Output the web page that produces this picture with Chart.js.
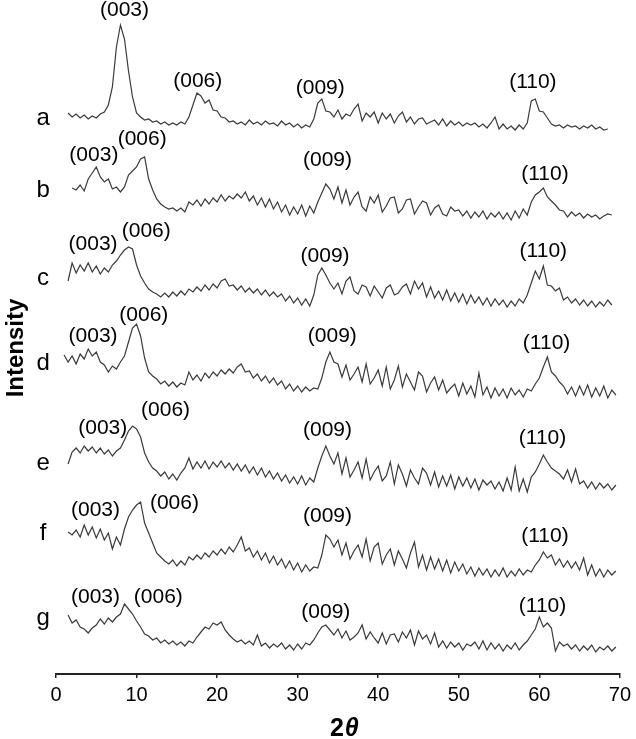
<!DOCTYPE html>
<html>
<head>
<meta charset="utf-8">
<script src="https://cdn.jsdelivr.net/npm/chart.js@4.4.0/dist/chart.umd.min.js"></script>
<style>
html,body{margin:0;padding:0;background:#fff;}
canvas{display:block;}
</style>
</head>
<body>
<canvas id="c" width="636" height="739"></canvas>
<script>
// 2θ grid (degrees)
const twoTheta = [
1.0,1.5,2.0,2.5,3.0,3.5,4.0,4.5,5.0,5.5,
6.0,6.5,7.0,7.5,8.0,8.5,9.0,9.5,10.0,10.5,
11.0,11.5,12.0,12.5,13.0,13.5,14.0,14.5,15.0,15.5,
16.0,16.5,17.0,17.5,18.0,18.5,19.0,19.5,20.0,20.5,
21.0,21.5,22.0,22.5,23.0,23.5,24.0,24.5,25.0,25.5,
26.0,26.5,27.0,27.5,28.0,28.5,29.0,29.5,30.0,30.5,
31.0,31.5,32.0,32.5,33.0,33.5,34.0,34.5,35.0,35.5,
36.0,36.5,37.0,37.5,38.0,38.5,39.0,39.5,40.0,40.5,
41.0,41.5,42.0,42.5,43.0,43.5,44.0,44.5,45.0,45.5,
46.0,46.5,47.0,47.5,48.0,48.5,49.0,49.5,50.0,50.5,
51.0,51.5,52.0,52.5,53.0,53.5,54.0,54.5,55.0,55.5,
56.0,56.5,57.0,57.5,58.0,58.5,59.0,59.5,60.0,60.5,
61.0,61.5,62.0,62.5,63.0,63.5,64.0,64.5,65.0,65.5,
66.0,66.5,67.0,67.5,68.0,68.5,69.0,69.5];

// intensities (relative, each pattern above its own baseline)
const seriesA = [
null,12,8,11,7,10,6,9,7,11,
13,20,38,78,100,86,54,28,12,8,
5,6,3,4,1,3,0,2,0,3,
1,8,20,32,29,22,25,15,14,8,
7,3,4,1,3,0,5,1,3,0,
4,1,2,-1,4,0,2,-2,1,-3,
0,-2,6,22,26,14,13,8,15,6,
11,9,16,21,4,12,8,13,2,12,
6,11,2,9,13,3,8,1,6,7,
1,3,5,0,6,-1,4,0,3,-1,
2,0,2,-2,1,-3,2,8,-4,1,
-4,-1,-5,0,-4,2,24,26,14,13,
7,1,-1,0,-3,0,-2,-1,-4,-1,
-3,0,-4,-2,-5,-4,null,null];

const seriesB = [
null,null,29,27,32,26,38,44,50,40,
35,38,28,30,25,30,42,46,50,58,
60,38,27,18,13,10,8,9,6,9,
5,15,12,17,11,18,13,19,15,22,
16,21,18,23,19,25,16,21,12,19,
10,18,8,15,5,12,2,10,3,12,
1,11,4,15,24,33,28,18,30,14,
27,12,20,25,10,6,20,14,22,5,
11,19,20,4,8,17,18,3,10,16,
14,2,9,12,3,1,10,6,7,1,
6,-1,5,0,6,-2,4,0,5,-2,
4,-3,6,-1,8,2,15,22,25,29,
20,16,12,7,6,0,5,1,4,-1,
3,0,2,-2,1,3,2,null];

const seriesC = [
null,22,40,30,38,32,40,31,37,29,
35,31,38,42,48,53,56,54,38,27,
20,14,11,9,6,10,6,11,7,12,
8,14,11,16,12,18,13,19,15,22,
24,17,18,13,17,11,15,10,14,8,
13,7,11,6,9,2,7,0,5,-2,
4,-3,8,28,35,28,20,14,20,9,
22,26,12,9,18,16,7,17,11,5,
15,18,8,10,16,19,9,22,14,20,
6,16,5,12,3,13,2,10,1,9,
-1,8,0,6,-2,5,-3,4,-2,3,
-4,2,-3,4,0,8,20,32,24,37,
18,17,12,15,3,6,0,4,-2,3,
-3,2,-4,1,-3,3,-2,null];

const seriesD = [
37,30,36,28,38,33,43,36,40,30,
27,20,26,23,30,36,50,64,68,56,
34,20,16,13,8,11,6,10,5,9,
7,20,12,17,11,19,14,20,16,22,
18,23,19,25,28,20,21,14,18,11,
16,9,14,7,11,3,8,1,6,0,
5,1,4,3,14,30,40,30,28,15,
27,12,18,25,10,28,8,14,22,6,
25,3,12,26,5,18,10,2,20,16,
0,9,15,2,12,-1,4,8,-4,9,
-2,6,-5,19,-3,5,-6,4,-4,3,
-6,4,-3,2,-5,3,1,8,14,25,
35,20,16,10,6,-2,5,-4,6,-3,
7,-5,4,-4,6,-6,2,-3];

const seriesE = [
null,22,34,38,33,40,35,39,33,38,
32,36,30,35,38,46,55,60,57,49,
33,24,18,15,10,14,7,12,6,13,
18,28,17,24,18,25,17,24,19,25,
18,23,16,22,15,21,13,19,11,18,
9,15,7,13,5,11,3,9,2,10,
1,8,4,18,30,40,30,22,33,12,
28,9,16,24,8,27,6,14,20,5,
10,24,2,21,12,0,16,8,2,18,
13,1,14,-1,10,0,11,-3,9,0,
8,-2,7,-4,6,1,5,-3,4,-5,
8,-4,19,-5,7,-6,9,14,22,31,
24,18,15,12,7,16,4,17,2,5,
-2,4,-3,3,-2,2,-4,1];

const seriesF = [
null,41,38,43,36,48,38,46,35,44,
33,40,24,36,28,44,56,63,68,71,
50,40,30,20,16,12,9,13,7,12,
8,16,13,18,14,20,16,22,18,24,
19,26,21,28,36,22,25,16,22,13,
20,10,17,8,14,5,12,3,10,1,
8,2,6,5,18,38,34,26,33,18,
30,14,22,28,16,34,12,26,30,9,
18,24,8,22,14,5,20,31,6,18,
3,16,4,14,2,13,0,11,2,9,
-1,6,-3,5,-2,4,-4,3,-3,5,
-4,2,-3,4,-2,3,1,8,13,21,
15,18,8,14,6,12,5,11,3,15,
-2,8,-3,4,-4,3,-2,2];

const seriesG = [
null,32,24,27,20,18,14,19,22,28,
23,29,25,30,33,43,38,33,26,20,
13,11,7,9,4,7,3,6,2,5,
1,6,4,10,15,20,18,24,22,25,
17,12,8,5,7,3,6,2,12,1,
4,-1,3,0,4,-2,2,-3,3,-2,
4,2,7,14,20,22,17,12,18,9,
16,7,10,14,22,8,15,9,4,14,
3,12,13,5,15,9,17,2,16,8,
12,3,14,0,6,-1,5,0,4,-3,
3,1,5,-2,6,-3,4,-2,3,-4,
2,-2,4,-3,2,6,12,18,30,20,
24,19,-4,5,1,3,-2,2,-4,1,
-3,2,-5,0,-3,1,-4,0];

const sampleNames = ['a','b','c','d','e','f','g'];
const sampleSeries = [seriesA, seriesB, seriesC, seriesD, seriesE, seriesF, seriesG];
// vertical stacking offsets of each pattern
const stackOffsets = [549, 457, 371, 282, 188, 101, 27];
// sample letter placement (x in 2θ, y in plot units)
const sampleLabelX = -1.6;
const sampleLabelY = [549, 477, 389, 304, 204, 134, 49];

// reflection labels
const hklNames = ['(003)', '(006)', '(009)', '(110)'];
const hklX = [
  [8.5, 17.6, 32.8, 59.2],
  [4.7, 10.7, 33.7, 60.7],
  [4.6, 11.2, 33.4, 60.5],
  [4.6, 10.9, 34.3, 60.9],
  [5.8, 13.6, 33.7, 60.4],
  [4.9, 14.7, 33.7, 60.7],
  [4.9, 12.7, 33.5, 60.4]
];
const hklY = [
  [658, 587, 580, 586],
  [513, 529, 508, 494],
  [424, 437, 412, 417],
  [332, 353, 332, 325],
  [240, 258, 238, 230],
  [158, 165, 152, 132],
  [71, 71, 56, 62]
];

const xTicks = [0, 10, 20, 30, 40, 50, 60, 70];

const datasets = sampleSeries.map((s, k) => ({
  label: sampleNames[k],
  data: twoTheta.map((x, i) => (s[i] === null ? null : {x: x, y: s[i] + stackOffsets[k]})).filter(p => p !== null),
  borderColor: '#3a3a3a',
  borderWidth: 1.2,
  pointRadius: 0,
  tension: 0,
  fill: false
}));

const FONT = '"Liberation Sans", Arial, sans-serif';

const textPlugin = {
  id: 'texts',
  afterDatasetsDraw(chart) {
    const ctx = chart.ctx;
    const xs = chart.scales.x, ys = chart.scales.y;
    ctx.save();
    ctx.fillStyle = '#000';
    ctx.textAlign = 'center';
    ctx.textBaseline = 'alphabetic';
    ctx.font = '21px ' + FONT;
    for (let k = 0; k < hklX.length; k++) {
      for (let j = 0; j < hklNames.length; j++) {
        ctx.fillText(hklNames[j], xs.getPixelForValue(hklX[k][j]), ys.getPixelForValue(hklY[k][j]));
      }
    }
    ctx.font = '24px ' + FONT;
    for (let k = 0; k < sampleNames.length; k++) {
      ctx.fillText(sampleNames[k], xs.getPixelForValue(sampleLabelX), ys.getPixelForValue(sampleLabelY[k]));
    }
    ctx.save();
    ctx.translate(23, 348);
    ctx.rotate(-Math.PI / 2);
    ctx.font = 'bold 24px ' + FONT;
    ctx.fillText('Intensity', 0, 0);
    ctx.restore();
    ctx.font = 'bold 25px ' + FONT;
    const w2 = ctx.measureText('2').width;
    ctx.font = 'italic bold 25px ' + FONT;
    const wt = ctx.measureText('\u03B8').width;
    const cx = xs.getPixelForValue(35.8);
    const left = cx - (w2 + wt + 1) / 2;
    ctx.textAlign = 'left';
    ctx.font = 'bold 25px ' + FONT;
    ctx.fillText('2', left, 736);
    ctx.font = 'italic bold 25px ' + FONT;
    ctx.fillText('\u03B8', left + w2 + 1, 736);
    ctx.restore();
  }
};

new Chart(document.getElementById('c'), {
  type: 'line',
  data: { datasets },
  options: {
    responsive: false,
    animation: false,
    events: [],
    layout: { padding: { left: 56, right: 12, top: 0, bottom: 0 } },
    plugins: { legend: { display: false }, tooltip: { enabled: false }, title: { display: false } },
    scales: {
      x: {
        type: 'linear',
        min: 0, max: 70,
        afterFit(scale) { scale.height = 65; },
        afterBuildTicks(scale) { scale.ticks = xTicks.map(v => ({ value: v })); },
        ticks: { color: '#000', font: { family: FONT, size: 20 }, padding: 5, maxRotation: 0 },
        grid: { drawOnChartArea: false, drawTicks: true, tickLength: 4, color: '#222', lineWidth: 1.5 },
        border: { display: true, color: '#222', width: 2 },
        title: { display: false }
      },
      y: {
        display: false,
        min: 0, max: 674
      }
    }
  },
  plugins: [textPlugin]
});
</script>
</body>
</html>
